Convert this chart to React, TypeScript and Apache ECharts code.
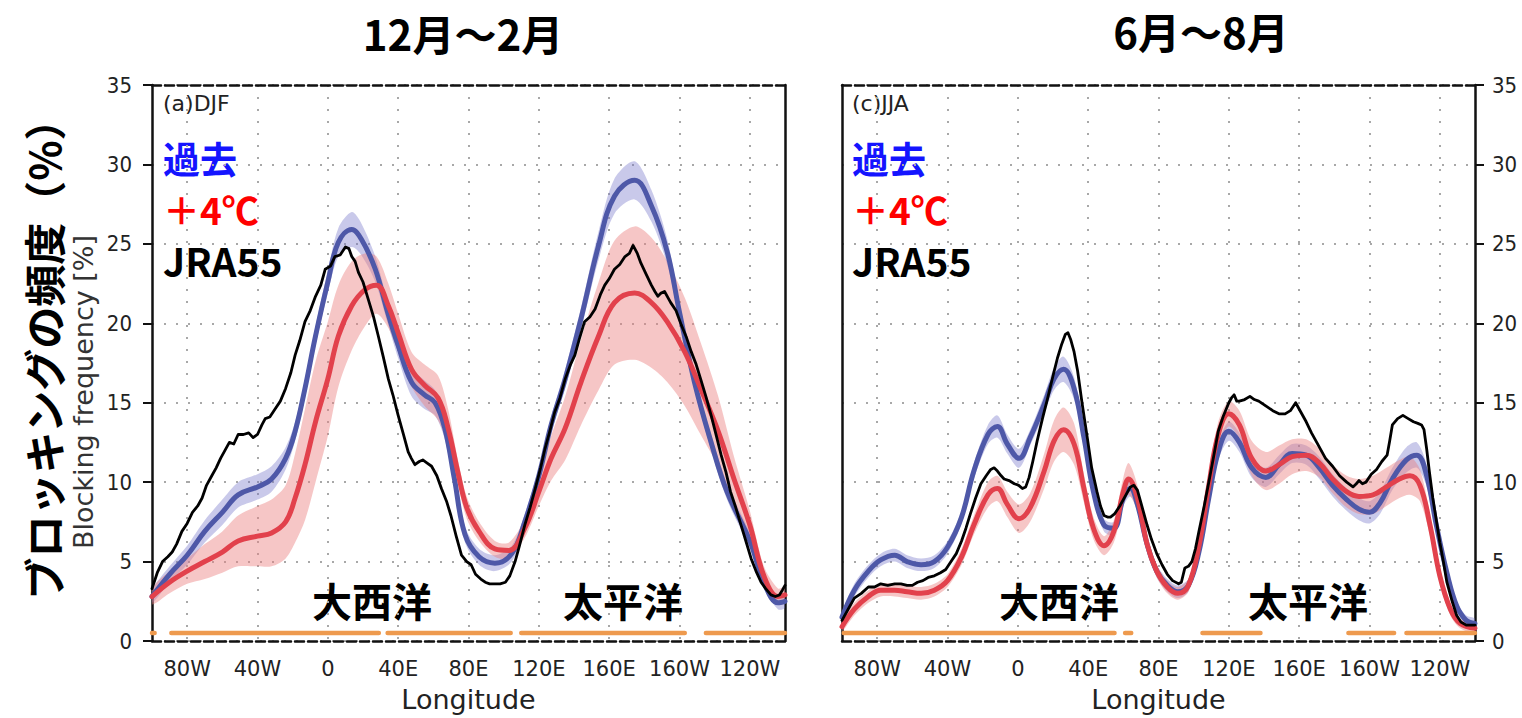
import React, { useEffect, useRef } from 'react';
import * as echarts from 'echarts';

// Longitude axis: 100W .. 260E (=100W), labelled every 40 degrees
const LON_MIN = -100;
const LON_MAX = 260;
const lonTicks = [-80, -40, 0, 40, 80, 120, 160, 200, 240];
const lonTickLabels = ['80W', '40W', '0', '40E', '80E', '120E', '160E', '160W', '120W'];

// ---------- DJF (December - February) ----------
const djfPastLon = [-100, -90, -80, -70, -60, -51, -40, -32, -24, -18.6, -13, -7, 0, 6, 13.6, 19, 27, 34, 40, 47.6, 55, 61, 66.5, 72, 78, 86, 95, 104.6, 112, 120, 127, 135, 144, 154, 163, 174.5, 184, 193, 200, 208.5, 218, 227, 240, 248, 256, 260];
const djfPast = [2.8, 4.2, 5.4, 6.9, 8.1, 9.2, 9.7, 10.2, 11.5, 13.2, 15.9, 19.2, 22.6, 25.1, 25.9, 25.3, 23.4, 20.7, 18.6, 16.3, 15.5, 15.0, 13.4, 10.2, 6.7, 5.3, 4.9, 5.5, 7.5, 10.4, 13.6, 16.5, 20.3, 24.9, 28.0, 29.0, 27.4, 24.5, 20.7, 16.3, 12.5, 9.4, 6.3, 3.7, 2.4, 2.5];
const djfPastSpread = [0.4, 0.5, 0.6, 0.7, 0.8, 0.8, 0.8, 0.8, 0.7, 0.6, 0.6, 0.6, 0.7, 0.9, 1.1, 1.0, 0.8, 0.7, 0.8, 0.9, 0.9, 0.8, 0.7, 0.6, 0.5, 0.5, 0.5, 0.5, 0.5, 0.5, 0.5, 0.6, 0.7, 0.9, 1.1, 1.2, 1.0, 0.8, 0.6, 0.5, 0.5, 0.5, 0.5, 0.4, 0.4, 0.4];

const djfWarmLon = [-100, -90, -80, -70, -60, -51, -40, -32, -24, -18.6, -13, -7, 0, 6, 13.6, 21, 27.7, 34.4, 40, 47.6, 55, 62.7, 68.4, 74, 79, 86, 95, 103, 112, 120, 127, 135, 144, 154, 163, 174.5, 184, 193, 203, 212, 222, 231, 240, 248, 256, 260];
const djfWarm = [2.8, 3.7, 4.4, 5.0, 5.6, 6.3, 6.6, 6.8, 7.5, 9.0, 11.1, 13.8, 16.5, 19.2, 21.1, 22.1, 22.4, 21.1, 19.4, 17.1, 16.1, 15.3, 13.4, 10.6, 8.4, 6.9, 5.8, 5.7, 7.1, 9.4, 11.5, 13.4, 16.3, 19.2, 21.3, 21.9, 21.3, 20.1, 18.2, 15.9, 13.2, 10.2, 7.3, 4.1, 2.8, 2.9];
const djfWarmSpread = [0.5, 0.7, 0.8, 1.1, 1.3, 1.6, 1.9, 2.1, 2.3, 2.8, 3.5, 3.8, 3.6, 3.2, 2.8, 2.3, 1.8, 1.4, 1.2, 1.1, 1.3, 1.4, 1.2, 0.8, 0.7, 0.6, 0.5, 0.5, 0.6, 0.9, 1.4, 2.0, 2.7, 3.4, 3.9, 4.2, 4.1, 3.8, 3.4, 2.9, 2.2, 1.4, 0.9, 0.6, 0.5, 0.5];

const djfJraLon = [-100, -97, -94, -91, -88.5, -86, -83, -80, -77, -74, -71.5, -69, -66, -63.5, -61, -58.5, -56, -53.5, -51, -48, -45, -42.5, -40, -37.5, -35.6, -33, -30, -27, -24, -21, -18.6, -16, -13, -10, -7, -4, -1.5, 1.5, 4, 7, 10, 12, 13.6, 15.5, 17.4, 20, 23, 26, 28.7, 31.5, 34.4, 37, 40, 43, 45.7, 47.5, 49.5, 52, 54, 56.5, 59, 62, 64.6, 67.5, 70, 73, 76, 79, 81.5, 84, 87, 89.5, 92, 95, 98, 101, 103.5, 106.5, 109, 112, 115, 118, 121, 123.5, 126, 129, 132, 135, 138, 140.5, 143, 146, 149, 152, 155, 157.5, 160, 163, 166, 169, 171.5, 173.6, 176, 178, 181, 184, 186, 187.7, 189.5, 191.5, 193.5, 195, 198, 201, 204, 206.7, 209.5, 212, 215, 218, 221, 223.7, 226.5, 229, 232, 235, 238, 240.7, 243.5, 246.4, 249, 252, 254.5, 256.8, 258.5, 260];
const djfJra = [3.3, 4.3, 5.0, 5.3, 5.6, 6.1, 6.9, 7.4, 8.1, 8.5, 9.0, 9.8, 10.4, 10.9, 11.5, 12.0, 12.5, 12.4, 13.0, 13.0, 13.1, 12.8, 13.0, 13.6, 14.0, 14.1, 14.6, 15.1, 15.9, 16.9, 18.0, 18.9, 20.1, 20.8, 21.7, 22.4, 23.4, 23.6, 24.2, 24.3, 24.8, 24.7, 24.2, 23.9, 23.2, 22.6, 21.5, 20.4, 19.2, 17.9, 16.5, 15.5, 14.2, 13.0, 11.9, 11.5, 11.1, 11.3, 11.4, 11.2, 11.0, 10.4, 9.6, 8.8, 7.9, 6.6, 5.4, 5.0, 4.8, 4.2, 3.9, 3.7, 3.6, 3.6, 3.6, 3.7, 4.1, 5.0, 6.0, 7.3, 8.4, 9.6, 10.9, 12.1, 13.1, 14.4, 15.3, 16.5, 17.4, 18.0, 19.0, 20.1, 20.4, 20.9, 21.8, 22.4, 22.8, 23.4, 23.7, 24.2, 24.4, 24.9, 24.4, 23.8, 23.1, 22.4, 22.0, 21.7, 21.9, 22.0, 21.6, 21.3, 20.8, 19.9, 19.1, 18.2, 17.4, 16.5, 15.4, 14.2, 12.9, 11.7, 10.6, 9.4, 8.4, 7.3, 6.2, 5.2, 4.4, 3.7, 3.3, 2.9, 2.8, 2.9, 3.2, 3.5];

const djfSignificant = [[-100, -98.5], [-89, 29], [34, 104], [110, 203], [215, 260]];

// ---------- JJA (June - August) ----------
const jjaPastLon = [-100, -93, -85, -78, -70, -63, -55, -47.5, -40, -32, -25, -17, -11.6, -6, 0.7, 7, 15, 20.6, 26, 32, 37.6, 43, 49, 54.6, 60, 64, 68, 73.5, 79, 85, 91, 97, 103, 108.6, 114, 120, 126, 133, 141, 148.6, 156, 164, 171.5, 179, 187, 194, 200, 206, 213, 221, 227, 232.5, 238, 244, 249.6, 255, 260];
const jjaPast = [1.5, 3.2, 4.4, 5.1, 5.4, 5.0, 4.8, 5.0, 5.9, 7.8, 10.7, 13.0, 13.5, 12.4, 11.5, 12.8, 14.9, 16.5, 17.1, 15.9, 12.8, 9.4, 7.3, 7.1, 9.0, 9.6, 8.6, 6.1, 4.4, 3.5, 3.1, 3.5, 5.6, 9.0, 11.9, 13.2, 12.5, 10.9, 10.3, 11.1, 11.8, 11.7, 10.9, 9.8, 8.9, 8.3, 8.1, 8.7, 10.2, 11.4, 11.7, 10.4, 7.3, 4.3, 2.2, 1.3, 1.1];
const jjaPastSpread = [0.3, 0.4, 0.4, 0.4, 0.4, 0.4, 0.4, 0.4, 0.4, 0.4, 0.5, 0.6, 0.7, 0.6, 0.6, 0.5, 0.6, 0.7, 0.8, 0.7, 0.5, 0.4, 0.4, 0.4, 0.5, 0.5, 0.5, 0.4, 0.4, 0.4, 0.4, 0.4, 0.4, 0.4, 0.5, 0.6, 0.6, 0.6, 0.6, 0.6, 0.6, 0.6, 0.7, 0.7, 0.7, 0.7, 0.7, 0.7, 0.7, 0.8, 0.8, 0.7, 0.5, 0.4, 0.3, 0.3, 0.3];

const jjaWarmLon = [-100, -93, -85, -78, -70, -63, -55, -47.5, -40, -32, -25, -17, -11.6, -6, 0.7, 7, 15, 20.6, 26, 32, 37.6, 43, 49, 54.6, 60, 63, 68, 73.5, 79, 85, 91, 97, 103, 108.6, 114, 120, 126, 133, 141, 148.6, 156, 164, 171.5, 179, 187, 194, 202, 209.6, 217, 223, 228.7, 234.4, 240, 246, 251.6, 260];
const jjaWarm = [0.9, 2.0, 2.8, 3.2, 3.2, 3.1, 3.0, 3.2, 3.8, 5.3, 7.3, 9.2, 9.6, 8.6, 7.7, 8.4, 10.7, 12.6, 13.3, 12.4, 9.6, 7.1, 6.0, 6.9, 9.4, 10.2, 9.0, 6.1, 4.4, 3.4, 3.0, 3.5, 6.0, 9.8, 13.0, 14.3, 13.6, 11.5, 10.7, 11.1, 11.6, 11.7, 11.2, 10.2, 9.4, 9.1, 9.2, 9.7, 10.2, 10.4, 9.8, 7.3, 4.1, 2.0, 1.1, 0.8];
const jjaWarmSpread = [0.3, 0.4, 0.4, 0.4, 0.4, 0.4, 0.4, 0.4, 0.4, 0.5, 0.6, 0.8, 0.8, 0.8, 0.9, 0.9, 1.1, 1.3, 1.4, 1.3, 0.9, 0.7, 0.6, 0.7, 0.9, 1.0, 0.8, 0.5, 0.4, 0.4, 0.4, 0.4, 0.5, 0.6, 0.8, 0.8, 0.9, 1.1, 1.2, 1.2, 1.1, 1.0, 0.9, 0.9, 1.0, 1.1, 1.2, 1.2, 1.2, 1.2, 1.0, 0.7, 0.5, 0.4, 0.3, 0.3];

const jjaJraLon = [-100, -96.5, -93, -89, -85, -81.5, -78, -74, -70, -66.5, -63, -60, -57, -54, -51, -47.5, -44, -41, -38, -35, -32, -29.5, -27, -24, -21, -18, -15.4, -13.5, -11.6, -9.5, -7.8, -5, -2, 0.5, 2.6, 4.5, 6.4, 8.5, 11, 14, 17, 20, 22.5, 25, 27, 28.5, 30, 32, 34, 36.5, 39.5, 42, 45, 47, 49, 51, 52.7, 55, 58, 61, 64, 66, 68, 70.5, 73.5, 76, 79, 82, 85, 88, 91.4, 93, 95, 97, 99, 101, 103, 106, 108.6, 111.5, 114, 117, 120, 121.5, 123, 124.5, 126, 129, 132, 134.5, 137, 141, 145, 148.5, 152, 155, 158, 161, 164, 167, 170, 172.5, 175, 179, 183, 187, 190.6, 192.5, 194, 196, 198, 201, 204, 207, 210, 211.5, 213, 216, 219, 222, 225, 227.5, 229.6, 231, 232.5, 234, 236, 238, 240, 242, 244, 247, 249.6, 252, 255, 257.5, 260];
const jjaJra = [1.3, 2.0, 2.7, 3.0, 3.4, 3.4, 3.6, 3.5, 3.6, 3.6, 3.5, 3.5, 3.7, 3.8, 4.0, 4.1, 4.3, 4.5, 5.0, 5.5, 6.3, 7.1, 8.0, 9.0, 9.9, 10.4, 10.8, 10.9, 10.7, 10.4, 10.2, 10.1, 9.9, 9.8, 9.6, 9.7, 10.3, 11.3, 12.6, 14.0, 15.3, 16.7, 17.8, 18.7, 19.3, 19.4, 19.0, 18.2, 17.0, 15.0, 12.8, 10.9, 9.4, 8.5, 7.9, 7.8, 7.8, 8.0, 8.5, 9.1, 9.7, 9.8, 9.5, 8.5, 7.3, 6.4, 5.5, 4.8, 4.2, 3.8, 3.6, 3.7, 4.6, 4.7, 5.0, 5.8, 6.9, 8.5, 10.0, 11.7, 13.2, 14.2, 15.0, 15.3, 15.5, 15.1, 15.1, 15.2, 15.4, 15.2, 15.1, 14.8, 14.5, 14.3, 14.3, 14.5, 15.0, 14.4, 13.8, 13.1, 12.5, 12.0, 11.5, 11.0, 10.4, 10.0, 9.7, 9.9, 10.1, 9.9, 10.0, 10.5, 10.8, 11.3, 11.7, 12.6, 13.6, 14.0, 14.2, 14.0, 13.8, 13.7, 13.6, 13.3, 12.1, 10.7, 9.0, 7.6, 6.2, 5.0, 3.7, 2.5, 1.6, 1.2, 1.0, 1.0, 1.0];

const jjaSignificant = [[-99, 55], [61, 64.5], [105, 138], [188, 214], [221, 260]];

// ---------- styling ----------
const PAST_COLOR = '#4e58a8';
const WARM_COLOR = '#e2414c';
const PAST_BAND = 'rgba(112, 112, 200, 0.38)';
const WARM_BAND = 'rgba(236, 128, 128, 0.45)';
const SIG_COLOR = '#ee9a4e';
const GRID_DOT = { color: '#a8a8a8', type: [2, 10] as number[], width: 2 };
const BORDER = '#111';
const LATIN = '"DejaVu Sans Condensed", "DejaVu Sans", sans-serif';
const LATIN_WIDE = '"DejaVu Sans", sans-serif';
const CJK = '"Noto Sans CJK JP", "Noto Sans CJK SC", sans-serif';

function band(lon: number[], mid: number[], spread: number[], fill: string, xi: number, yi: number) {
  return {
    type: 'custom',
    xAxisIndex: xi,
    yAxisIndex: yi,
    silent: true,
    clip: true,
    data: [[lon[0], mid[0]]],
    encode: { x: 0, y: 1 },
    renderItem: (_params: any, api: any) => {
      const upper = lon.map((x, i) => api.coord([x, mid[i] + spread[i]]));
      const lower = lon.map((x, i) => api.coord([x, Math.max(0, mid[i] - spread[i])])).reverse();
      return {
        type: 'polygon',
        shape: { points: upper.concat(lower), smooth: 0.3 },
        style: { fill },
      };
    },
  };
}

function curve(lon: number[], vals: number[], color: string, width: number, smooth: number | boolean, xi: number, yi: number) {
  return {
    type: 'line',
    xAxisIndex: xi,
    yAxisIndex: yi,
    silent: true,
    symbol: 'none',
    showSymbol: false,
    smooth,
    data: lon.map((x, i) => [x, vals[i]]),
    lineStyle: { color, width, cap: 'round', join: 'round' },
  };
}

function significance(segments: number[][], xi: number, yi: number) {
  const data: any[] = [];
  segments.forEach(([a, b]) => {
    data.push([a, 0.5], [b, 0.5], [b, '-']);
  });
  return {
    type: 'line',
    xAxisIndex: xi,
    yAxisIndex: yi,
    silent: true,
    symbol: 'none',
    connectNulls: false,
    data,
    lineStyle: { color: SIG_COLOR, width: 4.5, cap: 'round' },
  };
}

function bottomAxis(gridIndex: number) {
  return {
    type: 'value',
    gridIndex,
    position: 'bottom',
    min: LON_MIN,
    max: LON_MAX,
    axisLine: { show: true, onZero: false, lineStyle: { color: BORDER, width: 2.5, type: [9, 4] } },
    axisTick: { show: false, customValues: lonTicks },
    axisLabel: {
      customValues: lonTicks,
      formatter: (v: number) => lonTickLabels[lonTicks.indexOf(v)] ?? '',
      margin: 17,
      fontSize: 21,
      color: '#222',
      fontFamily: LATIN_WIDE,
    },
    splitLine: { show: true, lineStyle: GRID_DOT },
    name: 'Longitude',
    nameLocation: 'middle',
    nameGap: 45,
    nameTextStyle: { fontSize: 27, color: '#222', fontFamily: LATIN_WIDE },
  };
}

function topAxis(gridIndex: number) {
  return {
    type: 'value',
    gridIndex,
    position: 'top',
    min: LON_MIN,
    max: LON_MAX,
    axisLine: { show: true, onZero: false, lineStyle: { color: BORDER, width: 2.5, type: [9, 4] } },
    axisTick: { show: false },
    axisLabel: { show: false },
    splitLine: { show: false },
  };
}

function freqAxis(gridIndex: number, position: 'left' | 'right', labelled: boolean) {
  return {
    type: 'value',
    gridIndex,
    position,
    min: 0,
    max: 35,
    interval: 5,
    axisLine: { show: true, onZero: false, lineStyle: { color: BORDER, width: 2.5 } },
    axisTick: { show: labelled, length: 9, lineStyle: { color: BORDER, width: 2 } },
    axisLabel: {
      show: labelled,
      margin: position === 'left' ? 20 : 17,
      fontSize: 22,
      color: '#222',
      fontFamily: LATIN,
    },
    splitLine: { show: labelled, lineStyle: GRID_DOT },
  };
}

function label(x: number, y: number, text: string, size: number, fill: string, opts: any = {}) {
  return {
    type: 'text',
    x,
    y,
    silent: true,
    ...(opts.rotation ? { rotation: opts.rotation } : {}),
    style: {
      text,
      fill,
      fontSize: size,
      fontWeight: opts.weight ?? 'bold',
      fontFamily: opts.family ?? CJK,
      align: opts.align ?? 'left',
      verticalAlign: 'middle',
    },
  };
}

export default function App() {
  const ref = useRef<HTMLDivElement>(null);

  useEffect(() => {
    if (!ref.current) return;
    const chart = echarts.init(ref.current, undefined, { renderer: 'svg' });

    const option: any = {
      animation: false,
      backgroundColor: '#ffffff',
      grid: [
        { left: 152, top: 85, width: 633, height: 558 },
        { left: 842, top: 85, width: 633, height: 558 },
      ],
      xAxis: [bottomAxis(0), topAxis(0), bottomAxis(1), topAxis(1)],
      yAxis: [
        freqAxis(0, 'left', true),
        freqAxis(0, 'right', false),
        freqAxis(1, 'left', false),
        freqAxis(1, 'right', true),
      ],
      series: [
        band(djfPastLon, djfPast, djfPastSpread, PAST_BAND, 0, 0),
        band(djfWarmLon, djfWarm, djfWarmSpread, WARM_BAND, 0, 0),
        curve(djfPastLon, djfPast, PAST_COLOR, 5, 0.4, 0, 0),
        curve(djfWarmLon, djfWarm, WARM_COLOR, 5, 0.4, 0, 0),
        curve(djfJraLon, djfJra, '#000000', 2.8, false, 0, 0),
        significance(djfSignificant, 0, 0),

        band(jjaPastLon, jjaPast, jjaPastSpread, PAST_BAND, 2, 3),
        band(jjaWarmLon, jjaWarm, jjaWarmSpread, WARM_BAND, 2, 3),
        curve(jjaPastLon, jjaPast, PAST_COLOR, 5, 0.4, 2, 3),
        curve(jjaWarmLon, jjaWarm, WARM_COLOR, 5, 0.4, 2, 3),
        curve(jjaJraLon, jjaJra, '#000000', 2.8, false, 2, 3),
        significance(jjaSignificant, 2, 3),
      ],
      graphic: [
        label(463, 32, '12月～2月', 42, '#000', { align: 'center' }),
        label(1201, 30, '6月～8月', 42, '#000', { align: 'center' }),
        label(42, 349, 'ブロッキングの頻度（%）', 42, '#000', { align: 'center', rotation: Math.PI / 2 }),
        label(83, 392, 'Blocking frequency [%]', 27, '#333', {
          align: 'center',
          rotation: Math.PI / 2,
          weight: 'normal',
          family: LATIN_WIDE,
        }),

        label(163, 103, '(a)DJF', 22, '#222', { weight: 'normal', family: LATIN_WIDE }),
        label(163, 158, '過去', 37, '#1414ff'),
        label(163, 209, '＋4℃', 37, '#ff0000'),
        label(163, 260, 'JRA55', 39, '#000'),
        label(372, 600, '大西洋', 40, '#000', { align: 'center' }),
        label(623, 600, '太平洋', 40, '#000', { align: 'center' }),

        label(852, 103, '(c)JJA', 22, '#222', { weight: 'normal', family: LATIN_WIDE }),
        label(852, 158, '過去', 37, '#1414ff'),
        label(852, 209, '＋4℃', 37, '#ff0000'),
        label(852, 260, 'JRA55', 39, '#000'),
        label(1059, 600, '大西洋', 40, '#000', { align: 'center' }),
        label(1308, 600, '太平洋', 40, '#000', { align: 'center' }),
      ],
    };

    chart.setOption(option);
    return () => chart.dispose();
  }, []);

  return (
    <div
      ref={ref}
      style={{ position: 'absolute', left: 0, top: 0, width: 1522, height: 718, background: '#fff' }}
    />
  );
}
